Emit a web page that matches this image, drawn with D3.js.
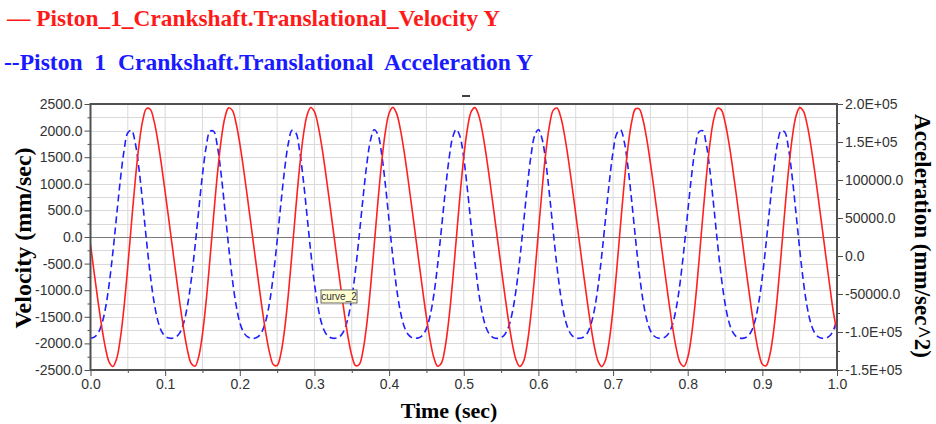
<!DOCTYPE html>
<html><head><meta charset="utf-8">
<script src="https://cdn.jsdelivr.net/npm/d3@7/dist/d3.min.js"></script>
<style>body{margin:0;background:#fff}svg{display:block}text{white-space:pre}</style></head>
<body><svg id="c" width="936" height="424"></svg>
<script>
// sampled every 0.005 s from t = 0.0 to 1.0
const timeStep = 0.005;
const velocity = [
-140,-678,-1200,-1681,-2083,-2352,-2434,-2290,-1906,-1304,-546,280,1071,1732,2191,2414,2401,2187,1823,1362,
850,316,-224,-760,-1278,-1751,-2135,-2378,-2428,-2246,-1826,-1195,-420,407,1184,1818,2242,2427,2380,2139,
1756,1285,768,232,-308,-843,-1355,-1817,-2183,-2400,-2415,-2196,-1740,-1082,-292,534,1294,1898,2286,2434,
2355,2088,1688,1207,686,148,-392,-924,-1431,-1881,-2228,-2416,-2397,-2140,-1650,-965,-163,659,1400,1974,
2325,2436,2324,2033,1617,1128,603,64,-475,-1005,-1506,-1943,-2269,-2428,-2373,-2079,-1555,-846,-34,782,
1502,2044,2358,2432,2289,1975,1545,1048,519,-20,-558,-1085,-1580,-2003,-2306,-2434,-2343,-2012,-1455,-725,
95,902,1599,2109,2385,2423,2250,1915,1471,967,436,-104,-642,-1165,-1651,-2059,-2339,-2436,-2308,-1939,
-1351,-601,224,1020,1693,2167,2406,2409,2208,1852,1396,886,353,-188,-724,-1244,-1720,-2112,-2367,-2431,
-2266,-1861,-1243,-475,352,1135,1781,2220,2422,2390,2161,1786,1320,804,269,-271,-807,-1322,-1788,-2162,
-2391,-2421,-2219,-1778,-1131,-348,479,1246,1864,2268,2432,2366,2111,1718,1241,722,185,-355,-888,-1398,
-1780
];
const acceleration = [
-108300,-106700,-101700,-90100,-69000,-36900,5180,53100,100300,138900,162100,165500,148400,114100,68900,20400,-24200,-59800,-84400,-98800,
-105600,-108000,-108200,-106200,-100400,-87500,-64800,-31000,12400,60700,107000,143600,164000,164100,144100,107600,61400,13100,-30400,-64400,
-87300,-100300,-106200,-108200,-108100,-105700,-98900,-84700,-60300,-24800,19700,68200,113500,148000,165400,162300,139300,100900,53800,5800,
-36400,-68700,-89900,-101600,-106700,-108300,-107900,-105000,-97300,-81600,-55500,-18400,27200,75700,119800,152000,166200,159900,134200,93900,
46200,-1200,-42100,-72700,-92200,-102700,-107100,-108300,-107600,-104200,-95500,-78300,-50400,-11700,34600,83000,125700,155500,166600,157100,
128800,86800,38700,-8100,-47600,-76400,-94400,-103700,-107500,-108400,-107300,-103200,-93400,-74700,-45000,-4900,42200,90200,131400,158500,
166500,153900,123000,79500,31100,-14900,-52800,-79900,-96300,-104600,-107700,-108300,-106900,-102200,-91200,-70800,-39400,2100,49800,97200,
136700,161100,165900,150200,116900,72200,23700,-21400,-57700,-83100,-98100,-105300,-108000,-108200,-106500,-101000,-88700,-66700,-33600,9200,
57400,104100,141600,163200,164800,146000,110500,64700,16300,-27700,-62400,-86000,-99600,-106000,-108100,-108100,-105900,-99600,-85900,-62300,
-27500,16500,64900,110700,146200,164800,163100,141500,103900,57100,9000,-33800,-66800,-88800,-101000,-106500,-108300,-108000,-105300,-98000,
-83000
];
const xTickValues = [0,0.1,0.2,0.3,0.4,0.5,0.6,0.7,0.8,0.9,1.0];
const xTickLabels = ["0.0","0.1","0.2","0.3","0.4","0.5","0.6","0.7","0.8","0.9","1.0"];
const velTickValues = [2500,2000,1500,1000,500,0,-500,-1000,-1500,-2000,-2500];
const velTickLabels = ["2500.0","2000.0","1500.0","1000.0","500.0","0.0","-500.0","-1000.0","-1500.0","-2000.0","-2500.0"];
const accTickValues = [200000,150000,100000,50000,0,-50000,-100000,-150000];
const accTickLabels = ["2.0E+05","1.5E+05","100000.0","50000.0","0.0","-50000.0","-1.0E+05","-1.5E+05"];
const legendVelocity = "\u2014 Piston_1_Crankshaft.Translational_Velocity Y";
const legendAcceleration = "--Piston  1  Crankshaft.Translational  Acceleration Y";
const titleX = "Time (sec)";
const titleLeft = "Velocity (mm/sec)";
const titleRight = "Acceleration (mm/sec^2)";
const tooltipLabel = "curve_2";

const svg = d3.select("#c");
const P = {l:90.5, r:837, t:104, b:370};
const x = d3.scaleLinear().domain([0,1]).range([P.l,P.r]);
const yV = d3.scaleLinear().domain([-2500,2500]).range([P.b,P.t]);
const yA = d3.scaleLinear().domain([-150000,200000]).range([P.b,P.t]);
const sans = "'Liberation Sans', Arial, sans-serif";
const serif = "'Liberation Serif', 'Times New Roman', serif";

// grid
const grid = svg.append("g");
grid.selectAll("line.v").data(d3.range(0.05,1,0.05)).join("line")
  .attr("x1",d=>x(d)).attr("x2",d=>x(d)).attr("y1",P.t).attr("y2",P.b)
  .attr("stroke","#d9d9d9").attr("stroke-width",1);
grid.selectAll("line.h").data(d3.range(-2250,2500,250)).join("line")
  .attr("x1",P.l).attr("x2",P.r).attr("y1",d=>Math.round(yV(d))+0.5).attr("y2",d=>Math.round(yV(d))+0.5)
  .attr("stroke",d=>d===0?"#7a7a7a":"#d9d9d9").attr("stroke-width",d=>d===0?1.2:1);

// curves
svg.append("clipPath").attr("id","clip").append("rect")
  .attr("x",P.l).attr("y",P.t).attr("width",P.r-P.l).attr("height",P.b-P.t);
const lineV = d3.line().x((d,i)=>x(i*timeStep)).y(d=>yV(d)).curve(d3.curveCatmullRom.alpha(0.5));
const lineA = d3.line().x((d,i)=>x(i*timeStep)).y(d=>yA(d)).curve(d3.curveCatmullRom.alpha(0.5));
const cg = svg.append("g").attr("clip-path","url(#clip)");
cg.append("path").datum(acceleration).attr("d",lineA).attr("fill","none")
  .attr("stroke","#1f1fff").attr("stroke-width",1.6).attr("stroke-dasharray","7,4");
cg.append("path").datum(velocity).attr("d",lineV).attr("fill","none")
  .attr("stroke","#ff2020").attr("stroke-width",1.6);

// frame
svg.append("rect").attr("x",P.l).attr("y",P.t).attr("width",P.r-P.l).attr("height",P.b-P.t)
  .attr("fill","none").attr("stroke","#505050").attr("stroke-width",2);

function style(g){
  g.select(".domain").remove();
  g.selectAll(".tick line").attr("stroke","#505050");
  g.selectAll("text").attr("font-family",sans).attr("font-size",14).attr("fill","#333");
}
// left axis
svg.append("g").attr("transform",`translate(${P.l},0)`)
  .call(d3.axisLeft(yV).tickValues(d3.range(-2250,2500,500)).tickSize(3).tickFormat("")).call(style);
svg.append("g").attr("transform",`translate(${P.l},0)`)
  .call(d3.axisLeft(yV).tickValues(velTickValues).tickSize(6).tickPadding(2).tickFormat((d,i)=>velTickLabels[i])).call(style);
// right axis
svg.append("g").attr("transform",`translate(${P.r},0)`)
  .call(d3.axisRight(yA).tickValues(d3.range(-125000,200000,50000)).tickSize(3).tickFormat("")).call(style);
svg.append("g").attr("transform",`translate(${P.r},0)`)
  .call(d3.axisRight(yA).tickValues(accTickValues).tickSize(6).tickPadding(2).tickFormat((d,i)=>accTickLabels[i])).call(style);
// bottom axis
svg.append("g").attr("transform",`translate(0,${P.b})`)
  .call(d3.axisBottom(x).tickValues(d3.range(0.05,1,0.1)).tickSize(3).tickFormat("")).call(style);
svg.append("g").attr("transform",`translate(0,${P.b})`)
  .call(d3.axisBottom(x).tickValues(xTickValues).tickSize(6).tickPadding(3).tickFormat((d,i)=>xTickLabels[i])).call(style);

// titles
svg.append("text").attr("x",449).attr("y",418).attr("text-anchor","middle")
  .attr("font-family",serif).attr("font-weight","bold").attr("font-size",22).attr("fill","#000").text(titleX);
svg.append("text").attr("transform","translate(31,238) rotate(-90)").attr("text-anchor","middle")
  .attr("font-family",serif).attr("font-weight","bold").attr("font-size",24).attr("fill","#000").text(titleLeft);
svg.append("text").attr("transform","translate(915,236) rotate(90)").attr("text-anchor","middle")
  .attr("font-family",serif).attr("font-weight","bold").attr("font-size",23).attr("fill","#000").text(titleRight);

// legend
svg.append("text").attr("x",7).attr("y",26).attr("font-family",serif).attr("font-weight","bold")
  .attr("font-size",23.5).attr("fill","#ff1a1a").attr("textLength",493).attr("lengthAdjust","spacingAndGlyphs")
  .text(legendVelocity);
svg.append("text").attr("x",4).attr("y",70).attr("font-family",serif).attr("font-weight","bold")
  .attr("font-size",23.5).attr("fill","#1a1aff").attr("textLength",529).attr("lengthAdjust","spacingAndGlyphs")
  .text(legendAcceleration);

// small title marker
svg.append("rect").attr("x",462).attr("y",95).attr("width",8).attr("height",2).attr("fill","#404040");

// tooltip
const tg = svg.append("g").attr("transform","translate(321,290)");
tg.append("rect").attr("width",36).attr("height",13).attr("fill","#ffffd0").attr("stroke","#666").attr("stroke-width",1);
tg.append("text").attr("x",18).attr("y",10).attr("text-anchor","middle").attr("font-family",sans)
  .attr("font-size",10).attr("fill","#333").text(tooltipLabel);
</script></body></html>
